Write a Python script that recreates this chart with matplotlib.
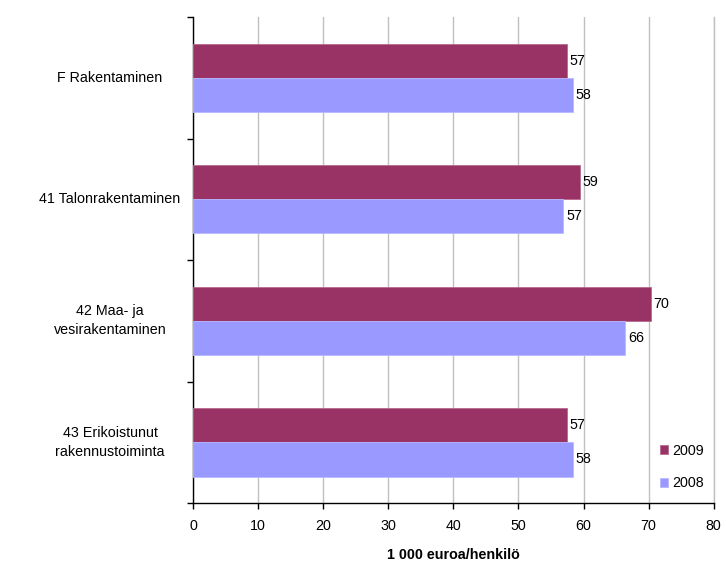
import matplotlib.pyplot as plt
import matplotlib.transforms as mtransforms
import numpy as np

plt.rcParams['font.family'] = ['Liberation Sans', 'DejaVu Sans']

# data
categories = ["F Rakentaminen", "41 Talonrakentaminen", "42 Maa- ja\nvesirakentaminen",
              "43 Erikoistunut\nrakennustoiminta"]
values_2009 = [57.4, 59.4, 70.3, 57.4]
values_2008 = [58.4, 56.9, 66.4, 58.4]
labels_2009 = ["57", "59", "70", "57"]
labels_2008 = ["58", "57", "66", "58"]
series_names = ["2009", "2008"]
xticks = [0, 10, 20, 30, 40, 50, 60, 70, 80]

col_2009 = "#993366"
col_2008 = "#9999FF"
fs = 10.3

fig = plt.figure(figsize=(7.26, 5.68), dpi=100)
ax = fig.add_axes([0.266, 0.114, 0.717, 0.856])

y = np.arange(len(categories))
h = 0.28

b1 = ax.barh(y - h / 2, values_2009, height=h, color=col_2009, edgecolor="#b86a8c",
             linewidth=0.6, label=series_names[0], zorder=3)
b2 = ax.barh(y + h / 2, values_2008, height=h, color=col_2008, edgecolor="#b8b8ff",
             linewidth=0.6, label=series_names[1], zorder=3)

for bars, labs in [(b1, labels_2009), (b2, labels_2008)]:
    for rect, lab in zip(bars, labs):
        ax.annotate(lab, (rect.get_width(), rect.get_y() + rect.get_height() / 2),
                    xytext=(2, 0), textcoords="offset points", ha="left", va="center",
                    fontsize=fs, color="black")

ax.set_xlim(0, 80)
ax.set_ylim(len(categories) - 0.5, -0.5)
ax.set_xticks(xticks)
ax.set_xticklabels([str(t) for t in xticks], fontsize=fs)
ax.xaxis.grid(True, color="#c0c0c0", linewidth=1, zorder=0)
ax.axvline(80, color="#c0c0c0", linewidth=1, clip_on=False, zorder=0)
ax.set_axisbelow(True)

# category labels, centred text block left of the axis
ax.set_yticks(y)
ax.set_yticklabels([])
ax.tick_params(axis="y", which="major", length=0)
ax.set_yticks(np.arange(len(categories) + 1) - 0.5, minor=True)
ax.tick_params(axis="y", which="minor", length=4, width=1)
trans = mtransforms.blended_transform_factory(fig.transFigure, ax.transData)
for yi, cat in zip(y, categories):
    ax.text(110 / 726, yi, cat, transform=trans, ha="center", va="center",
            fontsize=fs, linespacing=1.45)

ax.tick_params(axis="x", length=4, width=1, pad=7)
ax.spines["top"].set_visible(False)
ax.spines["right"].set_visible(False)
ax.spines["left"].set_linewidth(1)
ax.spines["bottom"].set_linewidth(1)

ax.set_xlabel("1 000 euroa/henkilö", fontsize=fs, fontweight="bold", labelpad=11)

leg = ax.legend(loc="lower right", bbox_to_anchor=(1.005, 0.0), frameon=False,
                fontsize=fs, handlelength=0.6, handleheight=0.6, handletextpad=0.25,
                labelspacing=1.3)

fig.savefig("out.png", dpi=100)
